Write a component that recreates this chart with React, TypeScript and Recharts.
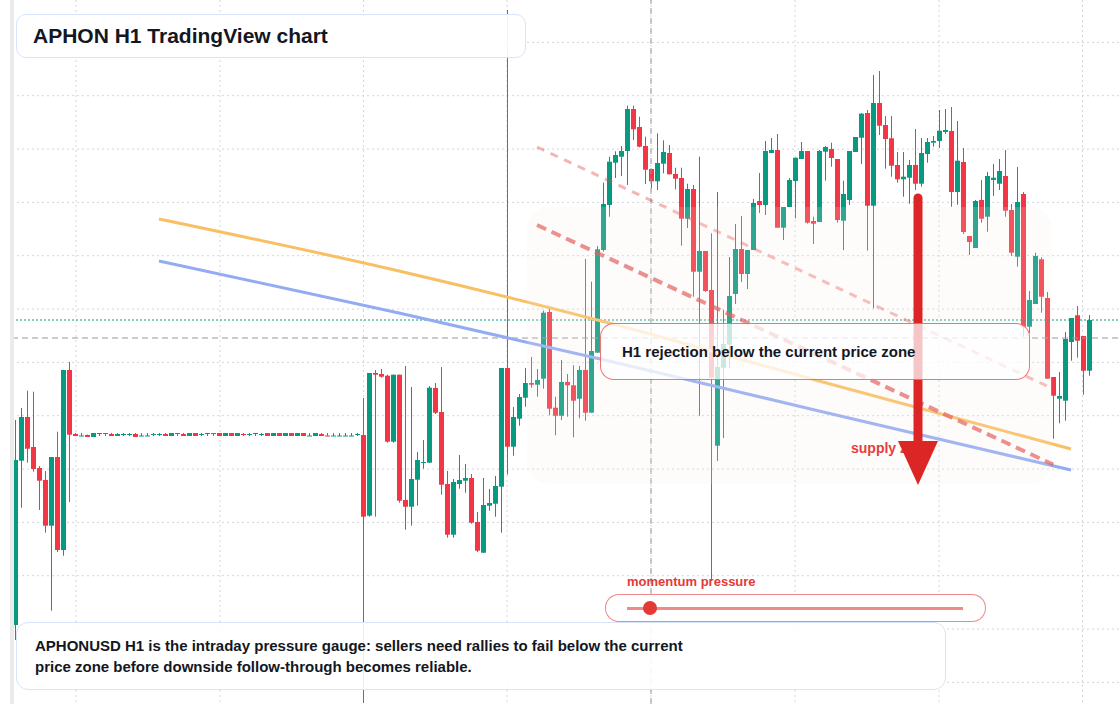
import { Bar, CartesianGrid, ComposedChart, Line, ReferenceLine, XAxis, YAxis } from 'recharts';

const UP = '#089981';
const DOWN = '#f23645';
const FONT = '"Liberation Sans", Arial, Helvetica, sans-serif';

// H1 candles, oldest first
const opens = [
  95, 259.3, 303, 273, 252, 240, 194.3, 263, 170, 350,
  286, 284, 285, 283, 286, 287, 286, 284, 285.5, 285.5,
  286, 284, 284, 285.5, 285.5, 286, 284, 287, 286, 284,
  287, 285.5, 286, 287, 287, 284, 287, 284, 286, 285.5,
  286, 285.5, 287, 284, 287, 284, 287, 284, 287, 284,
  284, 286, 284.5, 284, 284, 284, 284, 285.5,
  285, 204.3, 347, 346, 344.3, 278.3, 345.3, 220, 213.3, 240.3,
  257.5, 257.3, 332, 308, 236, 185.3, 236, 239.3, 242, 198,
  167.3, 214.3, 216.3, 233.3, 352, 273.3, 301.3, 322.3, 337, 335.3,
  341.3, 408, 312.3, 304.3, 338, 334.7, 321.3, 350, 307.3, 367.3,
  470, 515, 557.3, 563.3, 569, 611, 593, 574, 551, 538.7,
  556.3, 567, 546, 542, 501.3, 531, 448.3, 469, 430, 274.3,
  352.3, 375.3, 426, 471, 446, 470, 519, 515, 567, 570,
  492.3, 513, 539, 561, 569, 499, 498, 568.3, 571, 561,
  499.3, 520, 568, 582.3, 607, 514.3, 617, 595, 581.7, 555,
  540.7, 542.3, 555, 536.3, 566, 577.3, 579, 588, 589, 528,
  558, 484, 472, 520, 503.3, 540, 536.3, 544, 510, 463.3,
  526, 393.3, 416, 460.7, 422, 343, 321.3, 319.3, 378, 404.7,
  384, 349.3,
];

const highs = [
  300, 312, 329.3, 328.3, 254, 249, 263, 288.3, 350, 358,
  287, 287, 285.5, 287, 287, 287, 287, 287, 287, 287,
  287, 287, 287, 287, 287, 287, 287, 287, 287, 287,
  287, 287, 287, 287, 287, 287, 287, 287, 287, 287,
  287, 287, 287, 287, 287, 287, 287, 287, 287, 287,
  287, 287, 287, 287, 287, 287, 287, 287,
  322, 347, 350, 351, 345.3, 345.3, 345.3, 354, 333, 268,
  280, 334, 337, 353, 249, 241, 265, 256, 246, 208,
  242, 231, 244, 352, 710, 313, 326, 352, 363, 351,
  409.3, 413.3, 323.3, 360, 346, 354.7, 354, 461, 438.3, 474,
  537.3, 563.3, 568.7, 574, 614.3, 614.3, 603.3, 583.3, 551, 586.7,
  579.7, 575, 552.3, 552.3, 536.3, 535, 563.3, 469, 486.7, 528,
  410, 463, 496, 504, 470, 521, 547, 579, 582, 586,
  513, 542, 562.3, 578, 569, 503.3, 570, 574, 577.3, 561,
  539.3, 569, 583, 607, 610, 645, 649, 604, 604, 568,
  568, 560, 591, 582, 582, 584, 610, 611, 613, 599,
  572, 484, 520, 540, 548, 556, 561, 570, 516, 553,
  528, 429, 467.3, 462.7, 428, 343, 348, 388, 402, 414,
  384, 405,
];

const lows = [
  80, 212.3, 257.3, 248.3, 210, 187.3, 109.3, 168, 164.3, 218,
  284, 284, 283, 283, 284, 284, 284, 284, 284, 284,
  283, 284, 284, 284, 284, 284, 284, 284, 284, 284,
  284, 284, 284, 284, 284, 284, 284, 284, 284, 284,
  284, 284, 284, 284, 284, 284, 284, 284, 284, 284,
  284, 284, 284, 284, 284, 284, 284, 284,
  17, 203.3, 203.3, 342.3, 277.3, 277.3, 217.3, 190.3, 194.3, 214.3,
  251.3, 257.3, 306, 225.3, 182.3, 182.3, 231.3, 227.3, 196.3, 168,
  167.3, 209.3, 203.3, 187.3, 245.3, 264.3, 294.3, 313.3, 332.3, 323.3,
  331.3, 304.7, 284.7, 300, 303.3, 282.7, 301.7, 299.3, 307.3, 367.3,
  468.3, 503.3, 542, 544, 535, 580, 572.7, 536, 531.3, 530,
  546.7, 545.7, 530.7, 474.3, 492, 423.3, 304.3, 428, 140, 259,
  282, 351.7, 416, 438, 431, 470, 507, 505, 567, 492.3,
  480, 513, 501.7, 561, 496.3, 476, 498, 539.3, 553.3, 497.3,
  470, 515, 568, 556, 469.3, 411.7, 585, 551.3, 543.3, 537.3,
  523.3, 516.3, 530, 533.3, 557.3, 573.3, 572, 586, 513.3, 515.3,
  486, 465, 472, 497.3, 488.3, 524, 530, 503.3, 464, 453.3,
  383.3, 386.7, 416, 407.3, 341.3, 281.3, 296.7, 299.3, 359.3, 362.3,
  325.3, 344.3,
];

const closes = [
  260, 303, 271.3, 251, 239.3, 194.3, 263, 170, 350, 285.3,
  284, 284.5, 283, 287, 287, 286, 284, 286, 286, 286,
  283, 284.5, 284.5, 286, 286, 284, 287, 286, 284, 287,
  284, 286, 287, 286, 284, 287, 284, 287, 285.5, 286,
  287, 286, 284, 287, 284, 287, 284, 287, 284, 284.5,
  287, 284, 284, 284.5, 284.5, 284.5, 284.5, 286,
  203.3, 347, 345.3, 343.3, 278.3, 345.3, 219.3, 213.3, 241, 260,
  258, 332.3, 307.3, 235.3, 185.3, 238, 240, 242, 197.3, 169.3,
  215, 217, 234, 352, 273.3, 303, 323, 337, 335.3, 340,
  407.3, 311.3, 304.3, 338, 334.7, 319.3, 350, 307.3, 369, 470.7,
  516, 558.3, 565, 569, 611, 590.7, 573.3, 550.3, 538.7, 557,
  568, 545.7, 541.3, 501.3, 531, 448.3, 469, 429, 342.3, 353,
  376, 424, 471, 446, 470, 517, 515, 569, 570, 492.3,
  513, 540, 562.3, 569, 497.3, 496.3, 569, 573, 562, 500,
  526, 569, 583, 606.3, 514.3, 617, 594.3, 581, 554.3, 540.7,
  543.3, 555, 536.3, 567, 578, 579, 589.3, 590, 528, 559.3,
  488, 478, 519, 501.3, 544, 542.3, 549, 509.3, 467.3, 518,
  393.3, 420, 464, 423.3, 341.3, 324.3, 324, 381, 402, 379.3,
  349.3, 400,
];

// overlay studies: [bar index, price]
const fastMa = [[24, 501], [64, 449], [99, 397], [134, 339], [176, 271]];
const slowMa = [[24, 459], [64, 407], [99, 359], [134, 309], [176, 250]];
const upperTrend = [[87, 573], [172, 334]];
const lowerTrend = [[87, 495], [173, 255.5]];

const lastPrice = 400;
const crosshairPrice = 382;
const crosshairBar = 106;

const pick = (pts: number[][], i: number) => {
  const hit = pts.find((p) => p[0] === i);
  return hit ? hit[1] : null;
};

const data = opens.map((open, i) => ({
  i,
  open,
  high: highs[i],
  low: lows[i],
  close: closes[i],
  fast: pick(fastMa, i),
  slow: pick(slowMa, i),
  upper: pick(upperTrend, i),
  lower: pick(lowerTrend, i),
}));

const Candle = (props: any) => {
  const { x, y, width, height, payload } = props;
  const { open, close, high, low } = payload;
  const color = close >= open ? UP : DOWN;
  const range = high - low;
  const toY = (v: number) => (range === 0 ? y : y + ((high - v) / range) * height);
  const top = toY(Math.max(open, close));
  const bottom = toY(Math.min(open, close));
  const left = Math.round(x);
  const w = Math.round(width);
  const cx = left + Math.floor(w / 2) + 0.5;
  return (
    <g>
      <line x1={cx} x2={cx} y1={y} y2={y + height} stroke={color} strokeWidth={1} />
      <rect x={left} y={top} width={w} height={Math.max(1, bottom - top)} fill={color} />
    </g>
  );
};

const abs = (s: any) => ({ position: 'absolute', boxSizing: 'border-box', ...s });

export default function App() {
  return (
    <div style={{ position: 'fixed', left: 0, top: 0, width: 1120, height: 704, background: '#fff', overflow: 'hidden', fontFamily: FONT }}>
      <ComposedChart
        width={1120}
        height={704}
        data={data}
        margin={{ top: 0, right: 0, bottom: 0, left: 12 }}
        barCategoryGap={0}
      >
        <CartesianGrid
          stroke="#d3d6dc"
          strokeDasharray="2 3"
          horizontalPoints={[42.4, 95.7, 149.1, 202.4, 255.7, 309.1, 362.4, 415.7, 469.1, 522.4, 575.7, 629.1, 682.4]}
          verticalPoints={[76, 220, 363.5, 507, 651, 795, 939, 1082.5]}
        />
        <XAxis dataKey="i" type="category" hide padding={{ left: 0, right: 28 }} />
        <YAxis type="number" hide domain={[16, 720]} allowDataOverflow />
        <ReferenceLine y={lastPrice} stroke={UP} strokeDasharray="2 2" />
        <ReferenceLine y={crosshairPrice} stroke="#9598a1" strokeDasharray="6 4" />
        <ReferenceLine x={crosshairBar} stroke="#9598a1" strokeDasharray="6 4" />
        <Bar dataKey={(d: any) => [d.low, d.high]} barSize={5} shape={<Candle />} isAnimationActive={false} />
        <Line dataKey="fast" type="monotone" stroke="#f9bf63" strokeWidth={3} dot={false} connectNulls isAnimationActive={false} />
        <Line dataKey="slow" type="monotone" stroke="#93abf3" strokeWidth={3} dot={false} connectNulls isAnimationActive={false} />
        <Line dataKey="upper" type="linear" stroke="#e04848" strokeOpacity={0.4} strokeWidth={3} strokeDasharray="8 7" dot={false} connectNulls isAnimationActive={false} />
        <Line dataKey="lower" type="linear" stroke="#e04848" strokeOpacity={0.7} strokeWidth={4} strokeDasharray="10 6" dot={false} connectNulls isAnimationActive={false} />
      </ComposedChart>

      <div style={abs({ left: 10, top: 0, width: 4, height: 704, background: '#ebebeb' })} />

      <div style={abs({ left: 527, top: 207, width: 525, height: 277, borderRadius: 22, background: 'rgba(250,235,225,0.16)' })} />

      <div style={abs({ left: 851, top: 439, fontSize: 14, fontWeight: 700, color: '#e53e3e', lineHeight: '18px', whiteSpace: 'nowrap' })}>
        supply zone
      </div>

      <svg width={1120} height={704} style={abs({ left: 0, top: 0 })}>
        <line x1={918} y1={198} x2={918} y2={446} stroke="#dc2626" strokeWidth={9} strokeLinecap="round" />
        <polygon points="898,441 938,441 918,485" fill="#dc2626" />
      </svg>

      <div
        style={abs({
          left: 600, top: 323, width: 430, height: 57, borderRadius: 14,
          border: '1.5px solid rgba(235,70,70,0.75)', background: 'rgba(255,255,255,0.74)',
          display: 'flex', alignItems: 'center', paddingLeft: 21,
          fontSize: 15, fontWeight: 700, color: '#131722',
        })}
      >
        H1 rejection below the current price zone
      </div>

      <div
        style={abs({
          left: 16, top: 14, width: 510, height: 44, borderRadius: 10,
          border: '1.5px solid #d7e5fb', background: 'rgba(255,255,255,0.92)',
          display: 'flex', alignItems: 'center', paddingLeft: 16,
          fontSize: 21, fontWeight: 700, color: '#131722',
        })}
      >
        APHON H1 TradingView chart
      </div>

      <div style={abs({ left: 627, top: 574, fontSize: 13, fontWeight: 700, color: '#e53935', lineHeight: '16px', whiteSpace: 'nowrap' })}>
        momentum pressure
      </div>
      <div style={abs({ left: 605, top: 594, width: 381, height: 28, borderRadius: 14, border: '1.5px solid rgba(229,57,53,0.6)', background: '#fff' })} />
      <div style={abs({ left: 627, top: 606.5, width: 336, height: 3, background: '#ef8a8a' })} />
      <div style={abs({ left: 643, top: 601, width: 14, height: 14, borderRadius: 7, background: '#e53935' })} />

      <div
        style={abs({
          left: 16, top: 622, width: 930, height: 68, borderRadius: 12,
          border: '1.5px solid #d7e5fb', background: 'rgba(255,255,255,0.88)',
          display: 'flex', alignItems: 'center', paddingLeft: 18,
          fontSize: 15, fontWeight: 700, color: '#131722', lineHeight: '21px',
        })}
      >
        <div>
          APHONUSD H1 is the intraday pressure gauge: sellers need rallies to fail below the current
          <br />
          price zone before downside follow-through becomes reliable.
        </div>
      </div>
    </div>
  );
}
